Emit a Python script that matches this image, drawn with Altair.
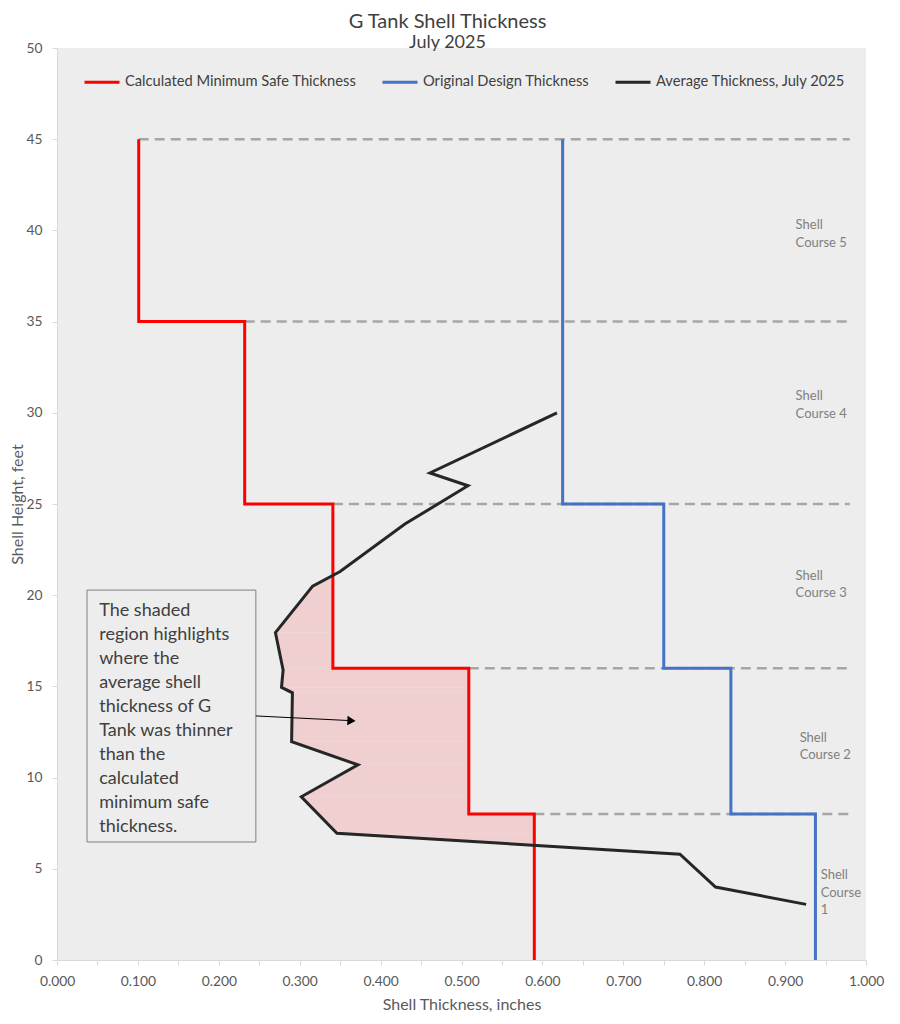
import altair as alt
import pandas as pd
import numpy as np

# ---------------- data ----------------
# shell courses, bottom (course 1) to top (course 5), heights in feet
course_bottom = [0, 8, 16, 25, 35]
course_top = [8, 16, 25, 35, 45]
min_safe = [0.590, 0.509, 0.341, 0.232, 0.101]      # calculated minimum safe thickness, in
design = [0.9375, 0.833, 0.750, 0.625, 0.625]       # original design thickness, in

# average thickness July 2025 (top to bottom)
avg_height = [30.0, 26.7, 26.0, 23.9, 21.3, 20.5, 17.95, 15.9, 14.95, 14.65,
              11.97, 10.7, 8.95, 6.95, 5.8, 4.0, 3.05]
avg_thick = [0.618, 0.461, 0.508, 0.430, 0.350, 0.316, 0.270, 0.2795, 0.2775, 0.291,
             0.290, 0.372, 0.302, 0.346, 0.770, 0.814, 0.926]

course_labels = ["Shell\nCourse\n1", "Shell\nCourse 2", "Shell\nCourse 3",
                 "Shell\nCourse 4", "Shell\nCourse 5"]
label_x = [0.944, 0.918, 0.913, 0.913, 0.913]
label_y = [4.66, 12.18, 21.07, 30.91, 40.28]

note_lines = ["The shaded", "region highlights", "where the", "average shell",
              "thickness of G", "Tank was thinner", "than the", "calculated",
              "minimum safe", "thickness."]

S_MIN = "Calculated Minimum Safe Thickness"
S_DES = "Original Design Thickness"
S_AVG = "Average Thickness, July 2025"

FONT = "Lato"

# ---------------- build tables ----------------
rows = []
def add_step(name, xs):
    k = 0
    for i in reversed(range(len(xs))):
        rows.append({"series": name, "i": k, "x": xs[i], "y": course_top[i]}); k += 1
        rows.append({"series": name, "i": k, "x": xs[i], "y": course_bottom[i]}); k += 1
add_step(S_MIN, min_safe)
add_step(S_DES, design)
for k, (t, h) in enumerate(zip(avg_thick, avg_height)):
    rows.append({"series": S_AVG, "i": k, "x": t, "y": h})
lines_df = pd.DataFrame(rows)

# shaded region: between average line and min-safe step where average is thinner
ya = np.array(avg_height[::-1]); xa = np.array(avg_thick[::-1])
def red_at(y):
    for b, t, v in zip(course_bottom, course_top, min_safe):
        if b <= y < t:
            return v
    return min_safe[-1]
brk = sorted(set(avg_height) | {b for b in course_bottom if ya.min() < b < ya.max()})
shade = []
for seg, (y0, y1) in enumerate(zip(brk[:-1], brk[1:])):
    r = red_at((y0 + y1) / 2)
    x0 = float(np.interp(y0, ya, xa)); x1 = float(np.interp(y1, ya, xa))
    shade.append({"seg": seg, "y": float(y0), "xb": x0, "xr": max(x0, r)})
    if (r - x0) * (r - x1) < 0:
        yc = y0 + (r - x0) / (x1 - x0) * (y1 - y0)
        shade.append({"seg": seg, "y": float(yc), "xb": r, "xr": r})
    shade.append({"seg": seg, "y": float(y1), "xb": x1, "xr": max(x1, r)})
shade_df = pd.DataFrame(shade)

dash_df = pd.DataFrame({"y": course_top,
                        "x": min_safe,
                        "x2": [0.98] * len(course_top)})

labels_df = pd.DataFrame({"x": label_x, "y": label_y, "t": course_labels})

# ---------------- scales ----------------
xs = alt.Scale(domain=[0, 1], nice=False, zero=False)
ysc = alt.Scale(domain=[0, 50], nice=False)

x_axis = alt.Axis(values=[i * 0.05 for i in range(21)],
                  labelExpr="round(datum.value*20) % 2 == 0 ? format(datum.value, '.3f') : ''",
                  title="Shell Thickness, inches", grid=False, labelOverlap=False,
                  labelFlush=False, tickSize=5, labelPadding=9, titlePadding=9)
y_axis = alt.Axis(values=list(range(0, 51, 5)), title="Shell Height, feet", grid=False,
                  labelFlush=False, labelOverlap=False, tickSize=5, labelPadding=10,
                  titlePadding=0)

base_x = lambda f: alt.X(f, type="quantitative", scale=xs, axis=x_axis)
base_y = lambda f: alt.Y(f, type="quantitative", scale=ysc, axis=y_axis)

shade_layer = alt.Chart(shade_df).mark_area(orient="horizontal", color="#EFCFCF",
                                            opacity=1).encode(
    y=base_y("y"), x=base_x("xb"), x2="xr:Q", detail="seg:N")

dash_layer = alt.Chart(dash_df).mark_rule(color="#A6A6A6", strokeWidth=2.5, strokeDash=[10, 6]).encode(
    y=base_y("y"), x=base_x("x"), x2="x2:Q")

line_layer = alt.Chart(lines_df).mark_line(strokeJoin="miter").encode(
    x=base_x("x"), y=base_y("y"),
    order=alt.Order("i:Q"),
    color=alt.Color("series:N",
                    scale=alt.Scale(domain=[S_MIN, S_DES, S_AVG],
                                    range=["#FF0000", "#4472C4", "#262626"]),
                    sort=[S_MIN, S_DES, S_AVG],
                    legend=alt.Legend(title=None, orient="none", direction="horizontal",
                                      legendX=26, legendY=15, symbolType="stroke",
                                      symbolSize=1225, symbolStrokeWidth=3,
                                      labelFont=FONT, labelFontSize=14.7, labelColor="#404040",
                                      labelLimit=400, columnPadding=19, labelOffset=4)),
    strokeWidth=alt.StrokeWidth("series:N",
                                scale=alt.Scale(domain=[S_MIN, S_DES, S_AVG], range=[3, 3, 2.5]),
                                legend=None))

box_layer = alt.Chart(pd.DataFrame({"x": [0.0371], "x2": [0.2458], "y": [20.28], "y2": [6.47]})).mark_rect(
    fill="#EDEDED", stroke="#7F7F7F", strokeWidth=1).encode(
    x=base_x("x"), x2="x2:Q", y=base_y("y"), y2="y2:Q")

note_layer = alt.Chart(pd.DataFrame({"x": [0.0522], "y": [19.65]})).mark_text(
    text=note_lines, align="left", baseline="top", lineHeight=24, fontSize=18,
    font=FONT, color="#404040").encode(x=base_x("x"), y=base_y("y"))

arrow_line = alt.Chart(pd.DataFrame({"x": [0.2458], "x2": [0.360], "y": [13.38], "y2": [13.13]})).mark_rule(
    color="#000000", strokeWidth=1).encode(x=base_x("x"), x2="x2:Q", y=base_y("y"), y2="y2:Q")

arrow_head = alt.Chart(pd.DataFrame({"x": [0.3640], "y": [13.12]})).mark_point(
    shape="triangle-right", filled=True, color="#000000", size=90, angle=3, opacity=1).encode(
    x=base_x("x"), y=base_y("y"))

label_layer = alt.Chart(labels_df).mark_text(
    align="left", baseline="middle", lineBreak="\n", lineHeight=17.6, fontSize=13,
    font=FONT, color="#808080").encode(x=base_x("x"), y=base_y("y"), text="t:N")

chart = alt.layer(shade_layer, dash_layer, line_layer, box_layer, note_layer,
                  arrow_line, arrow_head, label_layer).properties(
    width=809, height=912,
    padding={"left": 49, "top": 40, "right": 20, "bottom": 56},
    autosize="none",
    title=alt.TitleParams("G Tank Shell Thickness", subtitle="July 2025", font=FONT,
                          subtitleFont=FONT, fontSize=20, subtitleFontSize=18,
                          fontWeight="normal", color="#404040", subtitleColor="#404040",
                          anchor="middle", dx=-14, offset=-11, subtitlePadding=2),
).configure_view(fill="#EDEDED", stroke=None).configure_axis(
    domainColor="#D9D9D9", tickColor="#D9D9D9", labelColor="#595959", labelFont=FONT,
    labelFontSize=13.8, titleFont=FONT, titleFontSize=16, titleColor="#595959",
    titleFontWeight="normal")

chart.save("out.html", embed_options={"renderer": "svg", "actions": False})
